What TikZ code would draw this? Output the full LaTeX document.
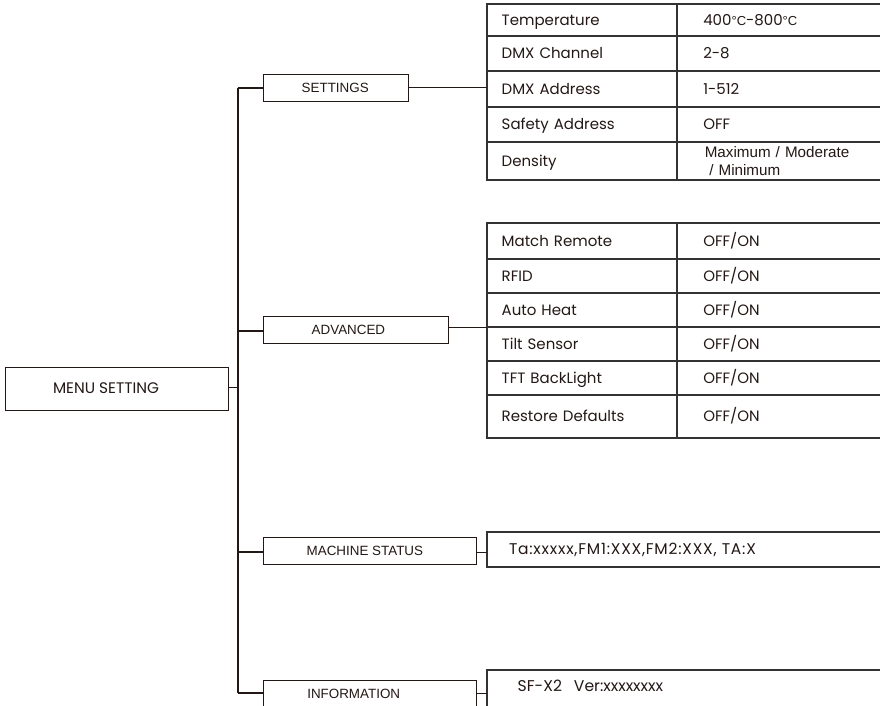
\documentclass[tikz,border=0pt]{standalone}
\usepackage{fontspec}
\setmainfont{Poppins}
\newfontfamily\arialf{Liberation Sans}
\newcommand\mydegc{{\arialf\fontsize{13}{15}\selectfont °C}}
\definecolor{ink}{HTML}{231815}
\definecolor{tline}{HTML}{333333}
\tikzset{
  every node/.style={inner sep=0pt, outer sep=0pt},
  subbox/.style={draw=ink, line width=1pt, minimum height=27pt, anchor=north west},
  subtxt/.style={font=\arialf\fontsize{13.4}{15}\selectfont, text=ink, anchor=west},
  cellbase/.style={draw=tline, line width=1.4pt, anchor=north west, align=left,
     font=\fontsize{15}{17.7}\selectfont, text=ink},
  cellL/.style={cellbase, minimum width=190pt, text width=160.6pt, inner xsep=14.7pt},
  cellR/.style={cellbase, minimum width=230pt, text width=177.4pt, inner xsep=26.3pt},
  capt/.style={text height=10.6pt, text depth=0pt},
  trunk/.style={draw=ink, line width=2pt},
  conn/.style={draw=ink, line width=1pt},
}
\begin{document}
\begin{tikzpicture}[x=1pt,y=-1pt]
\path[use as bounding box] (0,0) rectangle (880,705);
\fill[white] (0,0) rectangle (880,705);
\clip (0,0) rectangle (880,705);

% main box
\node[draw=ink, line width=1pt, anchor=north west, minimum width=223pt, minimum height=43pt,
  font=\fontsize{15.3}{17}\selectfont, text=ink] (menu) at (5,367) {\hspace*{-21pt}MENU SETTING};
\coordinate (ttop) at (237.5,88);
\coordinate (tbot) at (237.5,693);
\coordinate (jmenu) at (237.5,387);
\draw[trunk] (ttop) -- (tbot);
\draw[conn] (menu.east |- jmenu) -- (jmenu);

% sub boxes
\node[subbox, minimum width=145pt] (settings) at (263,74) {};
\node[subtxt] at (301.7,87.5) {SETTINGS};
\node[subbox, minimum width=185pt] (advanced) at (263,316) {};
\node[subtxt] at (311.7,329.5) {ADVANCED};
\node[subbox, minimum width=213pt] (status) at (263,537) {};
\node[subtxt] at (306.7,550.5) {MACHINE STATUS};
\node[subbox, minimum width=213pt, minimum height=40pt] (info) at (263,680) {};
\node[subtxt] at (307.3,694) {INFORMATION};

\coordinate (js) at (237.5,88);
\coordinate (ja) at (237.5,330.5);
\coordinate (jm) at (237.5,552);
\coordinate (ji) at (237.5,693);
\draw[trunk] (js) -- (settings.west |- js);
\draw[trunk] (ja) -- (advanced.west |- ja);
\draw[trunk] (jm) -- (status.west |- jm);
\draw[trunk] (ji) -- (info.west |- ji);

% settings table
\node[cellL, capt, minimum height=32pt] (s1) at (487,4) {Temperature};
\node[cellR, capt, minimum height=32pt] (s1v) at (677,4) {400\mydegc-800\mydegc};
\node[cellL, capt, minimum height=35pt] (s2) at (487,36) {DMX Channel};
\node[cellR, capt, minimum height=35pt] (s2v) at (677,36) {2-8};
\node[cellL, capt, minimum height=36pt] (s3) at (487,71) {DMX Address};
\node[cellR, capt, minimum height=36pt] (s3v) at (677,71) {1-512};
\node[cellL, capt, minimum height=35pt] (s4) at (487,107) {Safety Address};
\node[cellR, capt, minimum height=35pt] (s4v) at (677,107) {OFF};
\node[cellL, capt, minimum height=38pt] (s5) at (487,142) {Density};
\node[cellR, minimum height=38pt, font=\arialf\fontsize{15.2}{17.2}\selectfont] (s5v) at (677,142) {\hspace*{1.5pt}Maximum / Moderate\\\hspace*{6pt}/ Minimum};
\draw[conn] (settings.east) -- (settings.east -| s3.west);

% advanced table
\node[cellL, capt, minimum height=36pt] (a1) at (487,223) {Match Remote};
\node[cellR, capt, minimum height=36pt] (a1v) at (677,223) {OFF/ON};
\node[cellL, capt, minimum height=34pt] (a2) at (487,259) {RFID};
\node[cellR, capt, minimum height=34pt] (a2v) at (677,259) {OFF/ON};
\node[cellL, capt, minimum height=34pt] (a3) at (487,293) {Auto Heat};
\node[cellR, capt, minimum height=34pt] (a3v) at (677,293) {OFF/ON};
\node[cellL, capt, minimum height=34pt] (a4) at (487,327) {Tilt Sensor};
\node[cellR, capt, minimum height=34pt] (a4v) at (677,327) {OFF/ON};
\node[cellL, capt, minimum height=34pt] (a5) at (487,361) {TFT BackLight};
\node[cellR, capt, minimum height=34pt] (a5v) at (677,361) {OFF/ON};
\node[cellL, capt, minimum height=43pt] (a6) at (487,395) {Restore Defaults};
\node[cellR, capt, minimum height=43pt] (a6v) at (677,395) {OFF/ON};
\draw[conn] (advanced.east |- a4.north west) -- (a4.north west);

% status / info values
\node[draw=tline, line width=1.4pt, anchor=north west, minimum width=420pt, minimum height=35pt,
  text width=380pt, inner xsep=22pt, align=left, text height=10.8pt, text depth=0pt,
  font=\fontsize{15.5}{17}\selectfont\addfontfeatures{LetterSpace=5}, text=ink] (statv) at (487,532) {Ta:xxxxx,FM1:XXX,FM2:XXX, TA:X};
\node[draw=tline, line width=1.4pt, anchor=north west, minimum width=420pt, minimum height=50pt] (infov) at (487,670) {};
\node[anchor=base west, font=\fontsize{15.6}{17}\selectfont, text=ink] (infot) at (517.7,691.5) {SF-X2\hspace{12pt}Ver:xxxxxxxx};
\draw[conn] (status.east |- jm) -- (statv.west |- jm);
\draw[conn] (info.east |- ji) -- (infov.west |- ji);
\end{tikzpicture}
\end{document}
